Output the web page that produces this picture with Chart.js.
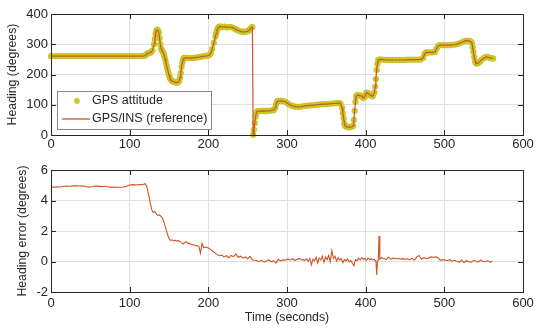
<!DOCTYPE html>
<html>
<head>
<meta charset="utf-8">
<script src="https://cdn.jsdelivr.net/npm/chart.js@4.4.1/dist/chart.umd.min.js"></script>
<style>
    body { margin: 0; background: #fff; }
    #wrap { position: relative; width: 540px; height: 330px; }
    #wrap canvas { position: absolute; left: 0; }
    #heading-chart { top: 0; }
    #error-chart { top: 152px; }
</style>
</head>
<body>
<div id="wrap">
    <canvas id="heading-chart" width="540" height="152"></canvas>
    <canvas id="error-chart" width="540" height="178"></canvas>
</div>
<script>
// heading track (GPS attitude samples, GPS/INS reference follows the same trace)
var headingTime = [
    0, 4, 8, 12, 16, 20, 24, 28, 32, 36, 40, 44, 48, 52, 56, 60, 64, 68, 72, 76, 80, 84, 88, 92, 96, 100, 104, 108, 112, 116,
    119, 121, 123, 125, 127, 129, 131, 132, 133, 134, 135, 136, 137, 138, 139, 140, 141, 142, 143, 144, 145, 146, 147, 148, 149, 150, 151,
    152, 154, 156, 158, 160, 162, 163, 164, 165, 166, 167, 168, 169, 170,
    172, 175, 178, 181, 184, 187, 190, 193, 196, 199, 201, 203, 205, 207, 209, 210, 211, 212, 213, 214, 216, 218,
    221, 224, 227, 230, 233, 236, 239, 242, 245, 248, 251, 253, 255, 256,
    257, 258, 259, 260, 261, 262, 265, 268, 271, 274, 277, 280, 283, 285, 286, 287, 288, 289,
    292, 295, 298, 301, 304, 307, 310, 314, 318, 322, 326, 330, 334, 338, 342, 346, 350, 354, 358, 362, 366, 368, 370,
    371, 372, 373, 374, 376, 378, 380, 382, 384, 385, 386, 387, 388, 389,
    391, 393, 395, 397, 399, 401, 403, 405, 407, 409, 411, 412, 413, 414, 415, 416, 418,
    422, 426, 430, 434, 438, 442, 446, 450, 454, 458, 462, 466, 470, 473, 475, 477, 480, 484, 488, 490, 492, 494,
    498, 502, 506, 510, 514, 518, 522, 526, 530, 533, 535, 536, 537, 538, 539, 540, 541,
    543, 545, 547, 550, 553, 556, 559, 562
];
var headingDeg = [
    261, 261, 261, 261, 261, 261, 261, 261, 261, 261, 261, 261, 261, 261, 261, 261, 261, 261, 261, 261, 261, 261, 261, 261, 261, 261, 261, 261, 261, 261,
    262, 266, 270, 272, 273, 280, 300, 318, 335, 345, 348, 346, 338, 320, 300, 285, 280, 276, 270, 262, 252, 240, 228, 218, 208, 198, 190,
    184, 178, 176, 174, 173, 175, 180, 190, 205, 225, 240, 250, 254, 255,
    255, 255, 254, 255, 256, 257, 258, 260, 261, 262, 264, 270, 285, 305, 325, 335, 345, 352, 356, 358, 358, 357,
    358, 356, 357, 356, 352, 348, 344, 342, 341, 342, 344, 350, 356, 357,
    1, 18, 40, 60, 72, 78, 79, 80, 79, 80, 80, 81, 82, 90, 100, 108, 112, 113,
    113, 112, 110, 104, 99, 96, 94, 93, 94, 96, 97, 98, 99, 100, 101, 102, 102, 103, 104, 105, 106, 104, 90,
    72, 55, 38, 30, 27, 26, 26, 27, 30, 50, 80, 110, 128, 132,
    131, 130, 129, 122, 126, 140, 138, 134, 130, 128, 140, 160, 185, 215, 235, 248, 250,
    249, 248, 248, 248, 248, 248, 248, 248, 249, 249, 249, 249, 250, 255, 268, 273, 273, 273, 274, 285, 294, 297,
    297, 297, 297, 298, 299, 302, 306, 311, 312, 310, 305, 290, 275, 258, 245, 238, 236,
    238, 242, 248, 254, 258, 257, 254, 253
];

// heading error of GPS attitude against the reference
var errorTime = [
    0, 4, 8, 12, 16, 20, 24, 28, 32, 36, 40, 44, 48, 52, 56, 60, 64, 68, 72, 76, 80, 84, 88, 92, 96, 100, 104, 108, 112, 116, 120,
    122, 124, 126, 128, 130, 132, 134, 136, 138, 140, 142, 144, 146, 148, 150, 152, 154, 156, 158, 160,
    162, 164, 166, 168, 170, 172, 174, 176, 178, 180, 182, 184, 186, 188, 190, 192, 194, 196, 198, 200,
    202, 205, 208, 211, 214, 217, 220, 223, 226, 229, 232, 235, 238, 241, 244, 247, 250, 253, 256, 259,
    262, 265, 268, 271, 274, 277, 280, 283, 286, 289, 292, 295, 298, 301, 304, 307, 310, 313, 316, 319,
    321, 323, 325, 327, 329, 331, 333, 335, 337, 339, 341, 343, 345, 347, 349, 351, 353, 355, 357, 359,
    361, 363, 365, 367, 369, 371, 373, 375, 377, 379, 381, 383, 385, 387, 389, 391, 393, 395, 397, 399,
    401, 403, 405, 407, 409, 411,
    412, 413, 414, 415, 416, 417, 418, 420,
    423, 426, 429, 432, 435, 438, 441, 444, 447, 450, 453, 456, 459, 462, 465, 468, 471, 474, 477, 480,
    483, 486, 489, 492, 495, 498, 501, 504, 507, 510, 513, 516, 519, 522, 525, 528, 531, 534, 537, 540,
    543, 546, 549, 552, 555, 558, 561
];
var errorDeg = [
    4.86, 4.88, 4.90, 4.89, 4.92, 4.94, 4.93, 4.96, 4.97, 4.95, 4.96, 4.92, 4.88, 4.90, 4.95, 4.94, 4.91, 4.93, 4.90, 4.86,
    4.88, 4.87, 4.85, 4.88, 4.93, 5.02, 5.04, 5.02, 5.05, 5.03, 5.10,
    4.85, 4.40, 3.90, 3.40, 3.22, 3.28, 3.10, 3.02, 3.05, 2.95, 2.80, 2.50, 2.15, 1.80, 1.50, 1.38, 1.42, 1.35, 1.40, 1.32,
    1.38, 1.30, 1.22, 1.15, 1.25, 1.30, 1.18, 1.20, 1.12, 1.08, 1.10, 1.02, 1.05, 0.98, 0.55, 1.20, 0.90, 0.95, 0.92, 0.88,
    0.82, 0.70, 0.58, 0.45, 0.38, 0.42, 0.30, 0.38, 0.25, 0.40, 0.32, 0.48, 0.28, 0.35, 0.22, 0.30, 0.18, 0.32, 0.12, 0.08,
    0.05, 0.00, 0.08, -0.04, 0.04, 0.10, -0.02, 0.06, -0.10, 0.14, 0.04, 0.12, 0.08, 0.15, 0.10, 0.18, 0.08, 0.14, 0.20, 0.10,
    0.12, 0.08, 0.18, 0.02, 0.20, -0.22, 0.15, 0.05, 0.28, -0.10, 0.22, 0.10, 0.35, -0.05, 0.30, 0.12, 0.40, -0.02, 0.72, 0.20,
    0.35, 0.02, 0.25, 0.10, 0.18, -0.08, 0.12, 0.05, 0.15, -0.02, 0.08, -0.10, -0.28, 0.12, 0.05, 0.20, 0.10, 0.25, 0.15, 0.20,
    0.08, 0.22, 0.12, 0.18, 0.10, 0.15,
    0.05, 0.10, -0.88, 0.00, 0.05, 1.68, 0.15, 0.25,
    0.20, 0.12, 0.28, 0.15, 0.22, 0.18, 0.20, 0.16, 0.19, 0.14, 0.18, 0.10, 0.22, 0.08, 0.30, 0.40, 0.15, 0.25, 0.20, 0.22,
    0.30, 0.28, 0.30, 0.26, 0.08, 0.12, 0.10, 0.05, 0.12, 0.02, 0.08, 0.00, -0.05, 0.10, -0.08, 0.05, 0.00, -0.06, 0.08, 0.02,
    -0.04, 0.10, 0.00, -0.02, 0.06, -0.04, 0.02
];

var timeTicks = [0, 100, 200, 300, 400, 500, 600];
var headingTicks = [0, 100, 200, 300, 400];
var errorTicks = [-2, 0, 2, 4, 6];

var FONT = "'Liberation Sans', Arial, Helvetica, sans-serif";
var TEXT = '#262626';
var GRID = '#e0e0e0';
var GPS_COLOR = '#cccc29';
var INS_COLOR = '#cf5526';

Chart.defaults.font.family = FONT;
Chart.defaults.color = TEXT;
Chart.defaults.animation = false;

function toPoints(xs, ys) {
    var pts = [];
    for (var i = 0; i < xs.length; i++) {
        pts.push({x: xs[i], y: ys[i]});
    }
    return pts;
}

// box around the axes with inward tick marks on all four sides
var axesBox = {
    id: 'axesBox',
    afterDatasetsDraw: function (chart) {
        var ctx = chart.ctx, a = chart.chartArea;
        var sx = chart.scales.x, sy = chart.scales.y;
        var len = 5;
        ctx.save();
        ctx.strokeStyle = TEXT;
        ctx.lineWidth = 1;
        ctx.beginPath();
        sx.ticks.forEach(function (t) {
            var px = Math.round(sx.getPixelForValue(t.value)) + 0.5;
            ctx.moveTo(px, a.bottom); ctx.lineTo(px, a.bottom - len);
            ctx.moveTo(px, a.top); ctx.lineTo(px, a.top + len);
        });
        sy.ticks.forEach(function (t) {
            var py = Math.round(sy.getPixelForValue(t.value)) + 0.5;
            ctx.moveTo(a.left, py); ctx.lineTo(a.left + len, py);
            ctx.moveTo(a.right, py); ctx.lineTo(a.right - len, py);
        });
        ctx.stroke();
        ctx.strokeRect(Math.round(a.left) + 0.5, Math.round(a.top) + 0.5,
            Math.round(a.right - a.left), Math.round(a.bottom - a.top));
        ctx.restore();
    }
};

// legend box in the lower left corner of the heading axes
var cornerLegend = {
    id: 'cornerLegend',
    afterDraw: function (chart) {
        var ctx = chart.ctx, a = chart.chartArea;
        var sets = chart.data.datasets;
        var x0 = a.left + 6, y1 = a.bottom - 6;
        var w = 154, h = 38;
        var y0 = y1 - h;
        ctx.save();
        ctx.fillStyle = '#fff';
        ctx.fillRect(x0, y0, w, h);
        ctx.strokeStyle = '#8a8a8a';
        ctx.lineWidth = 1;
        ctx.strokeRect(Math.round(x0) + 0.5, Math.round(y0) + 0.5, w, h);
        ctx.font = '12.5px ' + FONT;
        ctx.textBaseline = 'middle';
        ctx.fillStyle = TEXT;
        sets.forEach(function (ds, i) {
            var ly = y0 + 10 + i * 18;
            if (ds.showLine === false) {
                ctx.beginPath();
                ctx.arc(x0 + 20, ly, ds.pointRadius, 0, Math.PI * 2);
                ctx.fillStyle = ds.pointBackgroundColor;
                ctx.fill();
            } else {
                ctx.beginPath();
                ctx.moveTo(x0 + 5, ly);
                ctx.lineTo(x0 + 33, ly);
                ctx.strokeStyle = ds.borderColor;
                ctx.lineWidth = 1.3;
                ctx.stroke();
            }
            ctx.fillStyle = TEXT;
            ctx.fillText(ds.label, x0 + 35, ly);
        });
        ctx.restore();
    }
};

function xScale(withTitle, tickPad, height) {
    return {
        type: 'linear',
        min: 0,
        max: 600,
        afterBuildTicks: function (s) {
            s.ticks = timeTicks.map(function (v) { return {value: v}; });
        },
        afterFit: function (s) { s.height = height; },
        ticks: {font: {size: 13}, padding: tickPad, maxRotation: 0, autoSkip: false},
        grid: {color: GRID, drawTicks: false},
        border: {display: false},
        title: {
            display: withTitle,
            text: 'Time (seconds)',
            font: {size: 12.3},
            padding: {top: 0, bottom: 5}
        }
    };
}

function yScale(min, max, tickList, title, titlePad) {
    return {
        type: 'linear',
        min: min,
        max: max,
        afterBuildTicks: function (s) {
            s.ticks = tickList.map(function (v) { return {value: v}; });
        },
        afterFit: function (s) { s.width = 51; },
        ticks: {font: {size: 13}, padding: 3},
        grid: {color: GRID, drawTicks: false},
        border: {display: false},
        title: {
            display: true,
            text: title,
            font: {size: 12.3},
            padding: {top: titlePad, bottom: 0}
        }
    };
}

function renderHeading() {
    var config = {
        type: 'line',
        data: {
            datasets: [{
                label: 'GPS attitude',
                data: toPoints(headingTime, headingDeg),
                showLine: false,
                pointRadius: 2.9,
                pointBackgroundColor: GPS_COLOR,
                pointBorderColor: '#b8b81f',
                pointBorderWidth: 0.5,
                clip: 6,
                order: 2
            }, {
                label: 'GPS/INS (reference)',
                data: toPoints(headingTime, headingDeg),
                borderColor: INS_COLOR,
                borderWidth: 1.2,
                pointRadius: 0,
                tension: 0,
                order: 1
            }]
        },
        options: {
            responsive: false,
            devicePixelRatio: 1,
            layout: {padding: {top: 14, right: 17, left: 0, bottom: 0}},
            plugins: {legend: {display: false}, tooltip: {enabled: false}},
            scales: {
                x: xScale(false, 2, 17),
                y: yScale(0, 400, headingTicks, 'Heading (degrees)', 5.6)
            }
        },
        plugins: [axesBox, cornerLegend]
    };
    new Chart(document.getElementById('heading-chart').getContext('2d'), config);
}

function renderError() {
    var config = {
        type: 'line',
        data: {
            datasets: [{
                label: 'Heading error',
                data: toPoints(errorTime, errorDeg),
                borderColor: INS_COLOR,
                borderWidth: 1.1,
                pointRadius: 0,
                tension: 0
            }]
        },
        options: {
            responsive: false,
            devicePixelRatio: 1,
            layout: {padding: {top: 18, right: 17, left: 0, bottom: 0}},
            plugins: {legend: {display: false}, tooltip: {enabled: false}},
            scales: {
                x: xScale(true, 4, 38),
                y: yScale(-2, 6, errorTicks, 'Heading error (degrees)', 15.6)
            }
        },
        plugins: [axesBox]
    };
    new Chart(document.getElementById('error-chart').getContext('2d'), config);
}

renderHeading();
renderError();
</script>
</body>
</html>
